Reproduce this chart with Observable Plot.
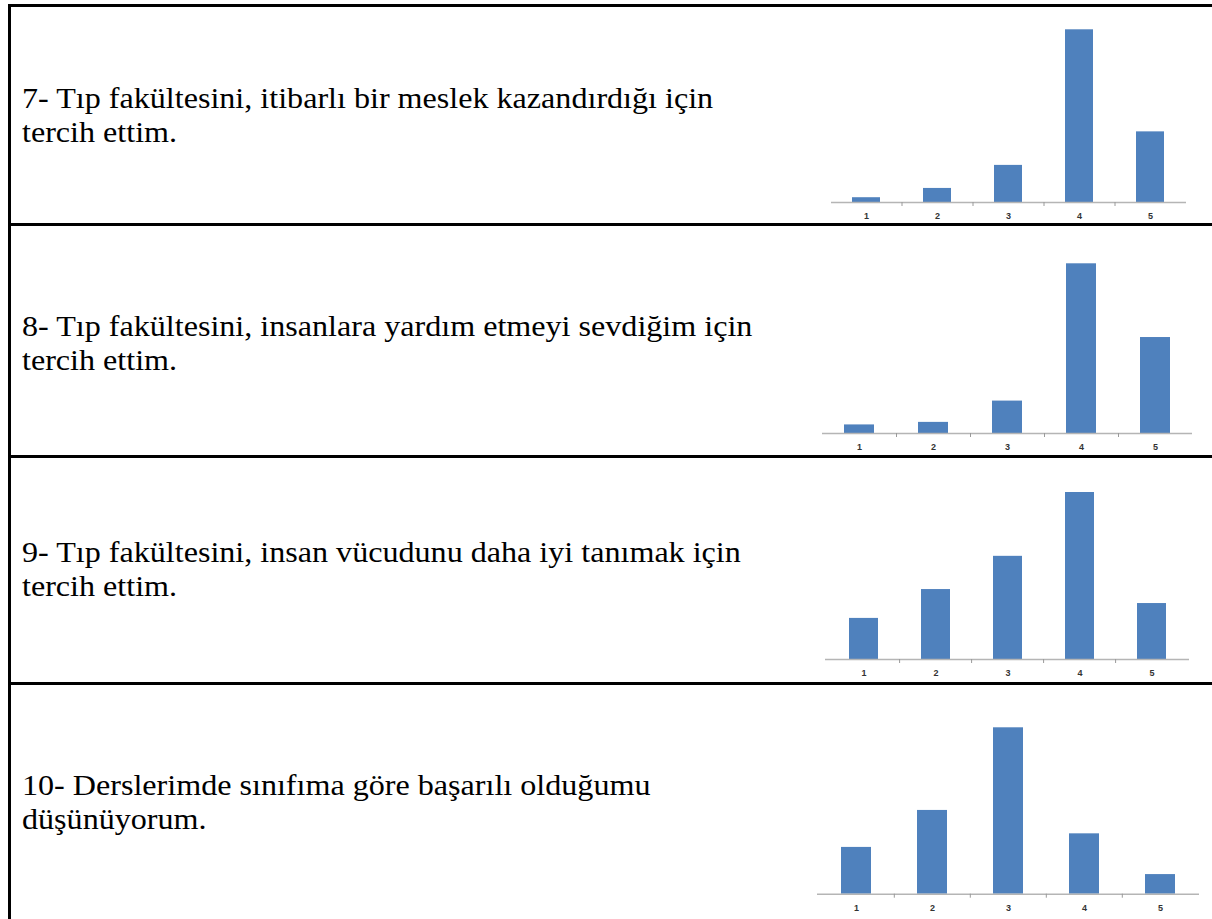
<!DOCTYPE html>
<html>
<head>
<meta charset="utf-8">
<script src="https://cdn.jsdelivr.net/npm/d3@7"></script>
<script src="https://cdn.jsdelivr.net/npm/@observablehq/plot@0.6"></script>
<style>
  html, body { margin: 0; padding: 0; background: #fff; }
  #page { position: relative; width: 1212px; height: 919px; overflow: hidden; background: #fff; }
  .hline { position: absolute; background: #000; height: 3px; }
  .vline { position: absolute; background: #000; width: 3px; }
  .qtext { position: absolute; left: 22px; font-family: "Liberation Serif", "Times New Roman", serif;
           font-size: 30px; line-height: 34px; color: #000; white-space: pre;
           transform: scaleX(1.07); transform-origin: left top; }
  .chart { position: absolute; left: 800px; }
</style>
</head>
<body>
<div id="page"></div>
<script>
// ---- data ----
const categories = ["1", "2", "3", "4", "5"];
const q7 = [1.6, 4.7, 12.4, 57.7, 23.6];
const q8 = [2.7, 3.5, 10.2, 53.4, 30.2];
const q9 = [9.4, 16.0, 23.6, 38.2, 12.8];
const q10 = [12.4, 22.2, 44.1, 16.0, 5.2];
const q7Text = ["7- Tıp fakültesini, itibarlı bir meslek kazandırdığı için", "tercih ettim."];
const q8Text = ["8- Tıp fakültesini, insanlara yardım etmeyi sevdiğim için", "tercih ettim."];
const q9Text = ["9- Tıp fakültesini, insan vücudunu daha iyi tanımak için", "tercih ettim."];
const q10Text = ["10- Derslerimde sınıfıma göre başarılı olduğumu", "düşünüyorum."];

// ---- layout ----
const rows = [
  {values: q7,  text: q7Text,  textTop: 81,  top: 8,   height: 216, mt: 21.3, mb: 22,   ml: 31, mr: 26},
  {values: q8,  text: q8Text,  textTop: 309, top: 228, height: 228, mt: 35.3, mb: 23,   ml: 22, mr: 20},
  {values: q9,  text: q9Text,  textTop: 535, top: 459, height: 224, mt: 33,   mb: 24,   ml: 25, mr: 23},
  {values: q10, text: q10Text, textTop: 768, top: 686, height: 233, mt: 41.3, mb: 25.3, ml: 17, mr: 13}
];
const ruleLines = [4, 223, 455, 682];
const W = 412;

const page = document.getElementById("page");
for (const y of ruleLines) {
  const d = document.createElement("div");
  d.className = "hline";
  d.style.left = "8px"; d.style.top = y + "px"; d.style.width = (1212 - 8) + "px";
  page.appendChild(d);
}
const v = document.createElement("div");
v.className = "vline";
v.style.left = "8px"; v.style.top = "4px"; v.style.height = "915px";
page.appendChild(v);

function chart(values, L) {
  const data = categories.map((c, i) => ({cat: c, value: values[i]}));
  const ymax = d3.max(values);
  const plotH = L.height - L.mt - L.mb;
  const step = (W - L.ml - L.mr) / categories.length;
  const tickDy = 4 * ymax / plotH;
  return Plot.plot({
    width: W, height: L.height,
    marginLeft: L.ml, marginRight: L.mr, marginTop: L.mt, marginBottom: L.mb,
    style: {background: "transparent", fontFamily: "'Liberation Sans', Arial, sans-serif", fontSize: "9px", fontWeight: "bold", color: "#333", overflow: "visible"},
    x: {domain: categories, paddingInner: 0.6, paddingOuter: 0.3, tickSize: 0, tickPadding: 10, label: null},
    y: {domain: [0, ymax], axis: null},
    marks: [
      Plot.barY(data, {x: "cat", y: "value", fill: "#4f81bd"}),
      Plot.ruleY([0], {stroke: "#b5b5b5", strokeWidth: 1.4}),
      Plot.ruleX(categories.slice(1), {x: d => d, y1: 0, y2: -tickDy, dx: -step / 2, stroke: "#9a9a9a"})
    ]
  });
}

for (const r of rows) {
  const t = document.createElement("div");
  t.className = "qtext";
  t.style.top = r.textTop + "px";
  t.textContent = r.text.join("\n");
  page.appendChild(t);
  const c = document.createElement("div");
  c.className = "chart";
  c.style.top = r.top + "px";
  c.appendChild(chart(r.values, r));
  page.appendChild(c);
}
</script>
</body>
</html>
